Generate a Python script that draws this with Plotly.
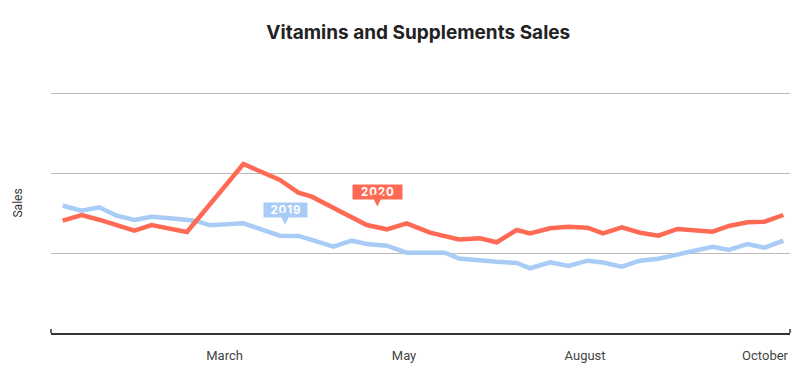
import plotly.graph_objects as go

# x positions of points (week index along the axis)
week_pos = [0, 1.08, 2.07, 3.07, 4.08, 5.05, 6.10, 7.07, 7.53, 8.38, 10.28, 12.36,
            13.41, 14.17, 15.40, 16.44, 17.30, 18.44, 19.57, 20.90, 21.75, 22.55,
            23.74, 24.69, 25.83, 26.59, 27.73, 28.77, 29.86, 30.74, 31.81, 32.85,
            33.89, 34.98, 36.97, 37.91, 38.96, 39.93, 41.00]

sales_2019 = [1.591, 1.529, 1.571, 1.466, 1.413, 1.454, 1.434, 1.419, 1.404, 1.346,
              1.371, 1.216, 1.213, 1.163, 1.079, 1.154, 1.113, 1.091, 1.004, 1.004,
              1.004, 0.931, 0.904, 0.891, 0.876, 0.809, 0.884, 0.838, 0.904, 0.881,
              0.829, 0.904, 0.928, 0.984, 1.079, 1.038, 1.113, 1.066, 1.154]

sales_2020 = [1.404, 1.475, 1.416, 1.350, 1.279, 1.350, 1.310, 1.263, 1.384, 1.613,
              2.113, 1.913, 1.754, 1.704, 1.569, 1.446, 1.350, 1.296, 1.371, 1.254,
              1.213, 1.169, 1.184, 1.134, 1.288, 1.246, 1.309, 1.329, 1.316, 1.246,
              1.321, 1.254, 1.216, 1.300, 1.266, 1.338, 1.384, 1.391, 1.475]

tick_pos = [9.21, 19.42, 29.72, 39.96]
tick_labels = ["March", "May", "August", "October"]

# label anchor points (tip of the callout) in data units
label_2019 = (12.65, 1.354)
label_2020 = (17.90, 1.58)

RED = "#FF6A55"
BLUE = "#A8CCF6"

fig = go.Figure()
fig.add_trace(go.Scatter(x=week_pos, y=sales_2019, mode="lines", name="2019",
                         line=dict(color=BLUE, width=4.5), hoverinfo="skip"))
fig.add_trace(go.Scatter(x=week_pos, y=sales_2020, mode="lines", name="2020",
                         line=dict(color=RED, width=4.5), hoverinfo="skip"))


def callout(text, pos, color, width):
    x, y = pos
    spaced = "\u200a".join(text)
    fig.add_annotation(x=x, y=y, xref="x", yref="y",
                       text="<b>%s</b>" % spaced,
                       showarrow=True, arrowhead=2, arrowsize=1.2, arrowwidth=2,
                       arrowcolor=color, ax=0, ay=-15, standoff=0,
                       bgcolor=color, borderpad=0, width=width,
                       font=dict(family="Inter", size=11.5, color="white"))


callout("2019", label_2019, BLUE, 43)
callout("2020", label_2020, RED, 49)

# end caps of the x axis line
for xp in (0, 1):
    fig.add_shape(type="line", xref="paper", x0=xp, x1=xp, yref="y",
                  ysizemode="pixel", yanchor=0, y0=-4, y1=4,
                  line=dict(color="#333333", width=1.5))

# y axis title
fig.add_annotation(text="Sales", xref="paper", yref="paper", x=0, y=0.5,
                   xanchor="center", yanchor="middle", xshift=-33.5, textangle=-90,
                   showarrow=False, font=dict(family="Roboto", size=12, color="#333333"))

fig.update_layout(
    width=800, height=383,
    margin=dict(l=51, r=10, t=73, b=50, autoexpand=False),
    paper_bgcolor="white", plot_bgcolor="white",
    showlegend=False,
    title=dict(text="<b>Vitamins and Supplements Sales</b>", x=0.497, xref="paper",
               xanchor="center", y=1 - 32 / 383, yref="container", yanchor="middle",
               font=dict(family="Inter", size=19, color="#222222")),
    xaxis=dict(range=[-0.666, 41.38], tickvals=tick_pos, ticktext=tick_labels,
               showgrid=False, zeroline=False, showline=True, linecolor="#333333",
               linewidth=1.5, ticks="", ticklabelstandoff=10, automargin=False,
               tickfont=dict(family="Roboto", size=13, color="#444444")),
    yaxis=dict(range=[0, 3.25], dtick=1, showgrid=True, gridcolor="#BBBBBB",
               gridwidth=1, zeroline=False, showticklabels=False, ticks="",
               automargin=False),
)

fig.write_html("out.html", config={"displayModeBar": False},
               post_script="document.body.style.margin='0';document.body.style.overflow='hidden';")
